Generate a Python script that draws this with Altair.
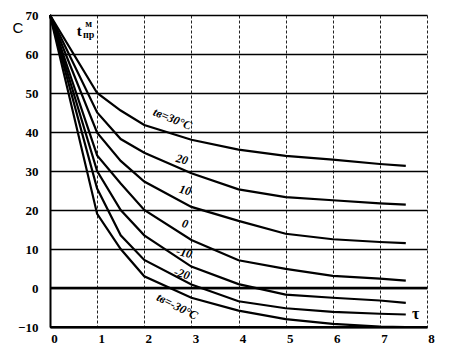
import altair as alt
import pandas as pd

tau = [0, 1, 1.5, 2, 3, 4, 5, 6, 7, 7.55]
series_names = ["30", "20", "10", "0", "-10", "-20", "-30"]
t_30 = [70, 50, 45.5, 41.8, 38.0, 35.5, 33.9, 32.9, 31.8, 31.3]
t_20 = [70, 45, 38.2, 34.7, 29.4, 25.3, 23.3, 22.5, 21.7, 21.4]
t_10 = [70, 39.8, 32.6, 27.3, 20.8, 17.2, 13.9, 12.5, 11.8, 11.5]
t_0 = [70, 34, 26.8, 20, 12.3, 7.1, 4.9, 3.1, 2.4, 1.9]
t_m10 = [70, 30, 20, 13.5, 5.5, 1.0, -1.7, -2.5, -3.2, -3.8]
t_m20 = [70, 25.5, 13.5, 7.2, 0.9, -3.4, -5.2, -6.1, -6.6, -6.8]
t_m30 = [70, 19, 10, 3, -2.5, -5.8, -8, -9.2, -9.9, -10]
all_series = [t_30, t_20, t_10, t_0, t_m10, t_m20, t_m30]

y_ticks = [-10, 0, 10, 20, 30, 40, 50, 60, 70]
x_ticks = [0, 1, 2, 3, 4, 5, 6, 7, 8]

# curve labels
lab_text = ["tв=30°C", "20", "10", "0", "-10", "-20", "tв=-30°C"]
lab_x = [2.60, 2.80, 2.87, 2.87, 2.85, 2.80, 2.70]
lab_y = [43.4, 33.0, 25.1, 16.5, 9.1, 3.7, -4.7]
lab_angle = [22, 14, 14, 14, 14, 16, 27]

rows = []
for name, vals in zip(series_names, all_series):
    for i, (t, v) in enumerate(zip(tau, vals)):
        rows.append({"s": name, "tau": t, "T": v, "o": i})
df = pd.DataFrame(rows)

xs = alt.Scale(domain=[0, 8], nice=False, zero=False)
ys = alt.Scale(domain=[-10, 70], nice=False, zero=False)
SERIF = "Liberation Serif"

X_AXIS = alt.Axis(values=x_ticks, title=None, ticks=False, labelPadding=5,
                  labelFont=SERIF, labelFontWeight="bold", labelFontSize=13,
                  labelColor="black", domainColor="black", domainWidth=2,
                  labelOverlap=False, labelFlush=False, labelOffset=4,
                  grid=True, gridColor="#222", gridDash=[3, 2], gridWidth=1)
Y_AXIS = alt.Axis(values=y_ticks, title=None, ticks=False, labelPadding=12,
                  labelFont=SERIF, labelFontWeight="bold", labelFontSize=13,
                  labelColor="black", domainColor="black", domainWidth=2,
                  labelOverlap=False, labelFlush=False,
                  grid=True, gridColor="black", gridWidth=1.4)


def px():
    return alt.X("tau:Q", scale=xs, axis=X_AXIS)


def py():
    return alt.Y("T:Q", scale=ys, axis=Y_AXIS)


lines = alt.Chart(df).mark_line(color="black", strokeWidth=2.2).encode(
    x=px(), y=py(), detail="s:N", order="o:Q")

zero = alt.Chart(pd.DataFrame({"T": [0]})).mark_rule(color="black", strokeWidth=2.6).encode(
    y=py())
bottom = alt.Chart(pd.DataFrame({"T": [-10]})).mark_rule(color="black", strokeWidth=2.2).encode(
    y=py())

labdf = pd.DataFrame({"text": lab_text, "tau": lab_x, "T": lab_y, "a": lab_angle})
labels = alt.Chart(labdf).mark_text(font=SERIF, fontStyle="italic", fontWeight="bold",
                                    fontSize=12, color="black").encode(
    x=px(), y=py(), text="text:N", angle=alt.Angle("a:Q", scale=None))

tdf = pd.DataFrame({"text": ["t"], "tau": [0.62], "T": [65.8]})
t_main = alt.Chart(tdf).mark_text(font=SERIF, fontWeight="bold", fontSize=15, color="black").encode(
    x=px(), y=py(), text="text:N")
supdf = pd.DataFrame({"text": ["м", "пр"], "tau": [0.82, 0.82], "T": [67.6, 64.9]})
t_sub = alt.Chart(supdf).mark_text(font=SERIF, fontWeight="bold", fontSize=10, color="black").encode(
    x=px(), y=py(), text="text:N")

taudf = pd.DataFrame({"text": ["τ"], "tau": [7.76], "T": [-6.7]})
tau_lab = alt.Chart(taudf).mark_text(font=SERIF, fontWeight="bold", fontSize=16, color="black").encode(
    x=px(), y=py(), text="text:N")

c_lab = alt.Chart(pd.DataFrame({"text": ["C"]})).mark_text(
    font="Liberation Sans", fontSize=15, color="black").encode(
    x=alt.value(-32), y=alt.value(13), text="text:N")

chart = alt.layer(lines, zero, bottom, labels, t_main, t_sub, tau_lab, c_lab).properties(
    width=377, height=312, autosize="none",
    padding={"left": 42, "top": 7, "right": 20, "bottom": 20},
    background="white"
).configure_view(stroke=None)

chart.save("out.html", embed_options={"renderer": "svg", "actions": False})
